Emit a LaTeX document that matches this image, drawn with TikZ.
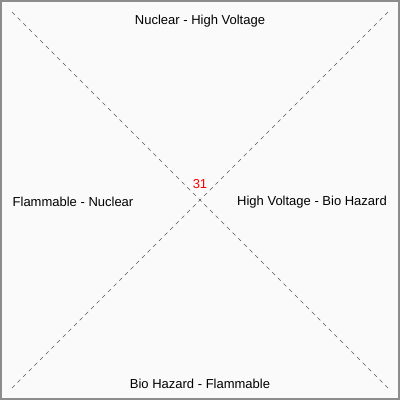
\documentclass[tikz,border=0pt]{standalone}
\usepackage{fontspec}
\setmainfont{Liberation Sans}
\usetikzlibrary{positioning}
\tikzset{
  lbl/.style={font=\fontsize{13}{15}\selectfont,inner sep=1pt},
  diag/.style={draw=black!65,dash pattern=on 4pt off 4pt,line width=0.6pt},
}

\begin{document}
\begin{tikzpicture}[x=1pt,y=-1pt]
\draw[draw=black!45,fill=black!2,line width=2pt] (1,1) rectangle (399,399);
\useasboundingbox (0,0) rectangle (400,400);
\coordinate (tl) at (12,12);
\coordinate (tr) at (388,12);
\coordinate (bl) at (12,388);
\coordinate (br) at (388,388);
\draw[diag] (tl) -- (br);
\draw[diag] (tr) -- (bl);
\node[lbl] (top) at (200,21.5) {Nuclear - High Voltage};
\node[lbl] (bottom) at (200,383.5) {Bio Hazard - Flammable};
\node[lbl] (left) at (73,201.5) {Flammable - Nuclear};
\node[lbl] (right) at (312,202.5) {High Voltage - Bio Hazard};
\node[lbl,text=red] (count) at (200,184.5) {31};
\end{tikzpicture}
\end{document}
